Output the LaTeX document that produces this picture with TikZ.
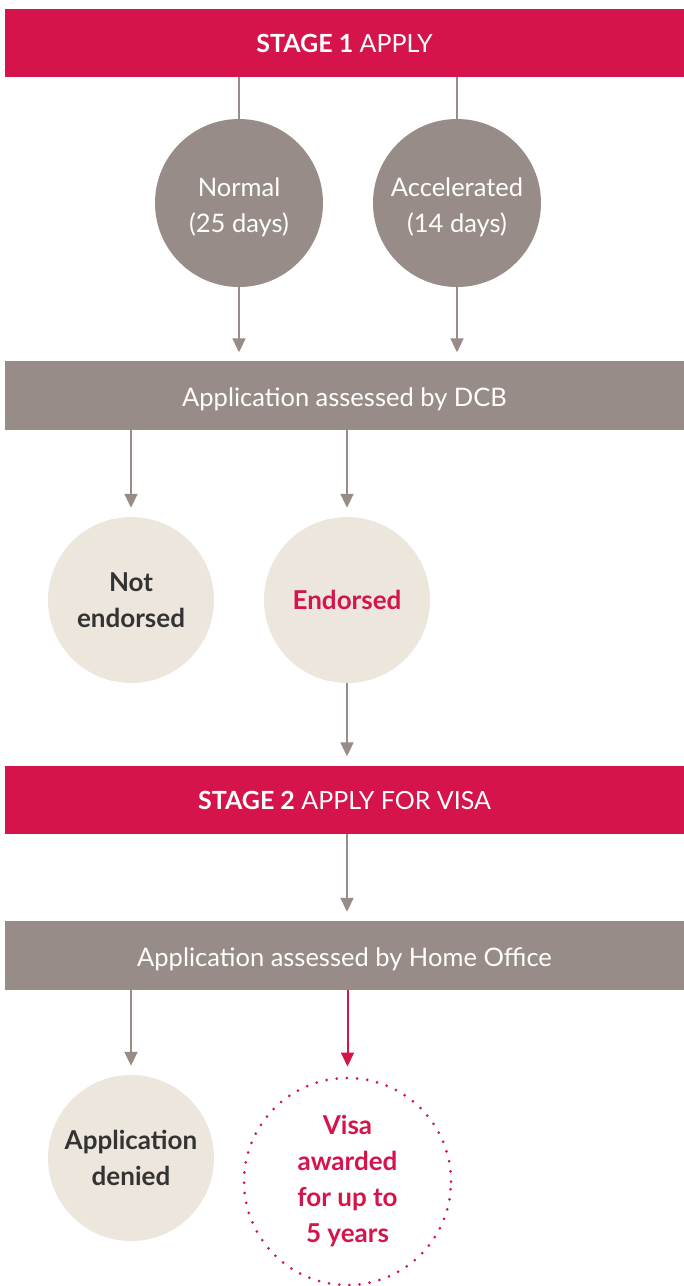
\documentclass[tikz,border=0pt]{standalone}
\usepackage{fontspec}
\setmainfont{Lato}
\usetikzlibrary{arrows.meta}
\definecolor{brand}{HTML}{D4144A}
\definecolor{taupe}{HTML}{978C87}
\definecolor{beige}{HTML}{ECE6DD}
\definecolor{darktext}{HTML}{333333}
\newcommand{\lowertext}[2]{\raisebox{-#1}[\height][\depth]{#2}}
\begin{document}
\begin{tikzpicture}[x=1pt,y=-1pt,
  redbar/.style={fill=brand,text=white,minimum width=679pt,minimum height=68pt,inner sep=0pt,font=\fontsize{25}{30}\selectfont},
  graybar/.style={fill=taupe,text=white,minimum width=679pt,minimum height=69pt,inner sep=0pt,font=\fontsize{25.5}{30}\selectfont},
  graycirc/.style={circle,fill=taupe,text=white,minimum size=168pt,inner sep=0pt,align=center,font=\fontsize{25.5}{35}\selectfont},
  beigecirc/.style={circle,fill=beige,text=darktext,minimum size=166pt,inner sep=0pt,align=center,font=\bfseries\fontsize{26}{36}\selectfont},
  dotcirc/.style={circle,draw=brand,line width=3pt,line cap=round,dash pattern=on 0pt off 10.2pt,text=brand,minimum size=207pt,inner sep=0pt,align=center,font=\bfseries\fontsize{26}{36}\selectfont},
  conn/.style={draw=taupe,line width=2pt},
  arr/.style={conn,-{Triangle[length=14pt,width=13pt]}},
  redarr/.style={draw=brand,line width=2pt,-{Triangle[length=14pt,width=13pt]}}
]
\useasboundingbox (0,0) rectangle (684,1286);
\node[redbar] (s1) at (344.5,42.5) {\lowertext{1pt}{\textbf{STAGE 1} APPLY}};
\node[graycirc] (n) at (239,203) {\lowertext{4pt}{\begin{tabular}{@{}c@{}}Normal\\[1pt](25 days)\end{tabular}}};
\node[graycirc] (a) at (457,203) {\lowertext{4pt}{\begin{tabular}{@{}c@{}}Accelerated\\[1pt](14 days)\end{tabular}}};
\node[graybar] (b1) at (344.5,395) {\lowertext{4pt}{Application assessed by DCB}};
\node[beigecirc] (ne) at (131,600) {Not\\endorsed};
\node[beigecirc,text=brand] (en) at (347,600) {Endorsed};
\node[redbar] (s2) at (344.5,799.5) {\lowertext{1pt}{\textbf{STAGE 2} APPLY FOR VISA}};
\node[graybar] (b2) at (344.5,955.5) {\lowertext{4pt}{Application assessed by Home Office}};
\node[beigecirc] (ad) at (131,1158) {Application\\denied};
\node[dotcirc] (va) at (347.5,1181.5) {Visa\\awarded\\for up to\\5 years};

\draw[conn] (s1.south -| n.north) -- (n.north);
\draw[conn] (s1.south -| a.north) -- (a.north);
\draw[arr,shorten >=8pt] (n.south) -- (n.south |- b1.north);
\draw[arr,shorten >=8pt] (a.south) -- (a.south |- b1.north);
\draw[arr,shorten >=9pt] (b1.south -| ne.north) -- (ne.north);
\draw[arr,shorten >=9pt] (b1.south -| en.north) -- (en.north);
\draw[arr,shorten >=9pt] (en.south) -- (en.south |- s2.north);
\draw[arr,shorten >=9pt] (s2.south) ++(2.5,0) coordinate (s2b) -- (s2b |- b2.north);
\draw[arr,shorten >=9pt] (b2.south -| ad.north) -- (ad.north);
\draw[redarr,shorten >=10pt] (b2.south -| va.north) -- (va.north);
\end{tikzpicture}
\end{document}
